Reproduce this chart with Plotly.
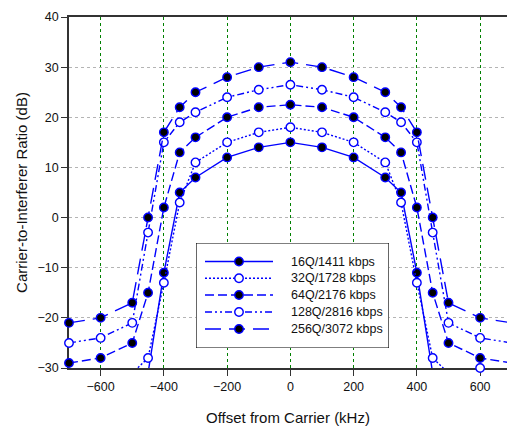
import plotly.graph_objects as go

# ---------------- data ----------------
offsets = [-700, -600, -500, -450, -400, -350, -300, -200, -100, 0,
           100, 200, 300, 350, 400, 450, 500, 600, 700]

names = ["16Q/1411 kbps", "32Q/1728 kbps", "64Q/2176 kbps",
         "128Q/2816 kbps", "256Q/3072 kbps"]

cir_16q = [-45, -42, -38, -31, -11, 5, 8, 12, 14, 15,
           14, 12, 8, 5, -11, -31, -38, -42, -45]
cir_32q = [-36, -34, -31, -28, -13, 3, 11, 15, 17, 18,
           17, 15, 11, 3, -13, -28, -31, -30, -31]
cir_64q = [-29, -28, -25, -15, 2, 13, 16, 20, 22, 22.5,
           22, 20, 16, 13, 2, -15, -25, -28, -29]
cir_128q = [-25, -24, -21, -3, 15, 19, 21, 24, 25.5, 26.5,
            25.5, 24, 21, 19, 15, -3, -21, -24, -25]
cir_256q = [-21, -20, -17, 0, 17, 22, 25, 28, 30, 31,
            30, 28, 25, 22, 17, 0, -17, -20, -21]

series = [cir_16q, cir_32q, cir_64q, cir_128q, cir_256q]

x_ticks = [-600, -400, -200, 0, 200, 400, 600]
y_ticks = [-30, -20, -10, 0, 10, 20, 30, 40]

# ---------------- styles ----------------
BLUE = "#0000ff"
dashes = ["solid", "2px,2px", "9px,4px", "7px,3px,2px,3px,2px,3px", "16px,8px"]
filled = [True, False, True, False, True]
FONT = "Liberation Sans, Arial, sans-serif"

fig = go.Figure()

for vals, nm, dsh, fl in zip(series, names, dashes, filled):
    fig.add_trace(go.Scatter(
        x=offsets, y=vals, mode="lines", name=nm, showlegend=False,
        line=dict(color=BLUE, width=1.4, dash=dsh), cliponaxis=True,
        xaxis="x", yaxis="y"))
    fig.add_trace(go.Scatter(
        x=offsets, y=vals, mode="markers", name=nm, showlegend=False,
        marker=dict(symbol="circle", size=8.5,
                    color="black" if fl else "white",
                    line=dict(color=BLUE, width=1.4)),
        cliponaxis=False, xaxis="x", yaxis="y"))

# ---------------- custom legend (inset axes) ----------------
leg_w, leg_h = 193, 105
row_y = [86.5, 69.7, 53.0, 36.0, 19.0]
for nm, dsh, fl, ry in zip(names, dashes, filled, row_y):
    fig.add_trace(go.Scatter(
        x=[9, 77], y=[ry, ry], mode="lines", showlegend=False,
        line=dict(color=BLUE, width=1.4, dash=dsh),
        xaxis="x2", yaxis="y2", hoverinfo="skip"))
    fig.add_trace(go.Scatter(
        x=[43], y=[ry], mode="markers", showlegend=False,
        marker=dict(symbol="circle", size=8.5,
                    color="black" if fl else "white",
                    line=dict(color=BLUE, width=1.4)),
        xaxis="x2", yaxis="y2", cliponaxis=False, hoverinfo="skip"))
    fig.add_annotation(x=93, y=ry, xref="x2", yref="y2", text=nm,
                       showarrow=False, xanchor="left", yanchor="middle",
                       font=dict(family=FONT, size=12.5, color="#111"))

fig.add_shape(type="rect", xref="x2", yref="y2", x0=0, x1=leg_w, y0=0, y1=leg_h,
              fillcolor="white", line=dict(color="black", width=1.2), layer="below")

# ---------------- layout ----------------
L, T, W, H = 69, 17, 507, 426
pw, ph = W - L, 368 - T

fig.update_layout(
    width=W, height=H,
    margin=dict(l=L, r=0, t=T, b=H - 368, pad=0),
    paper_bgcolor="white", plot_bgcolor="white",
    font=dict(family=FONT, size=12, color="#111"),
    xaxis=dict(
        range=[-700, 685], tickvals=x_ticks,
        showgrid=True, gridcolor="#008000", griddash="dot", gridwidth=1,
        zeroline=False, showline=True, linecolor="#333", linewidth=1.5,
        mirror=True, ticks="outside", ticklen=6, tickcolor="#333",
        tickfont=dict(size=12.5, family=FONT, color="#111"),
        title=dict(text="Offset from Carrier (kHz)", standoff=25,
                   font=dict(size=15, family=FONT, color="#111")),
        layer="below traces", automargin=False),
    yaxis=dict(
        range=[-30, 40], tickvals=y_ticks,
        showgrid=True, gridcolor="#b4b4b4", griddash="dot", gridwidth=1,
        zeroline=False, showline=True, linecolor="#333", linewidth=1.5,
        ticks="outside", ticklen=6, tickcolor="#333",
        tickfont=dict(size=12.5, family=FONT, color="#111"),
        title=dict(text="Carrier-to-Interferer Ratio (dB)", standoff=6,
                   font=dict(size=15, family=FONT, color="#111")),
        layer="below traces", automargin=False),
    xaxis2=dict(domain=[(196 - L) / pw, (389 - L) / pw], range=[0, leg_w],
                visible=False, anchor="y2", fixedrange=True),
    yaxis2=dict(domain=[(368 - 348) / ph, (368 - 243) / ph], range=[0, leg_h],
                visible=False, anchor="x2", fixedrange=True),
)

fig.write_html("out.html")
